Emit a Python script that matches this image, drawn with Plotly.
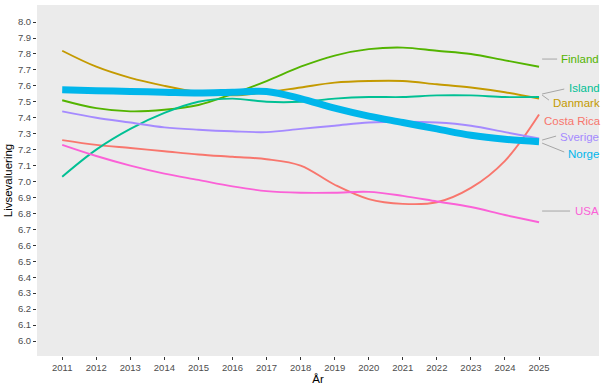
import plotly.graph_objects as go

years = list(range(2011, 2026))
countries = ["Costa Rica", "Danmark", "Finland", "Island", "Norge", "Sverige", "USA"]
costa_rica = [7.26, 7.23, 7.21, 7.19, 7.17, 7.155, 7.14, 7.10, 6.98, 6.89, 6.86, 6.87, 6.96, 7.13, 7.42]
danmark = [7.82, 7.72, 7.65, 7.60, 7.56, 7.54, 7.56, 7.59, 7.62, 7.63, 7.63, 7.61, 7.59, 7.56, 7.52]
finland = [7.51, 7.46, 7.44, 7.45, 7.48, 7.55, 7.63, 7.72, 7.79, 7.83, 7.84, 7.82, 7.80, 7.76, 7.72]
island = [7.03, 7.20, 7.33, 7.43, 7.50, 7.52, 7.50, 7.50, 7.52, 7.53, 7.53, 7.54, 7.54, 7.53, 7.53]
norge = [7.575, 7.57, 7.565, 7.56, 7.555, 7.56, 7.565, 7.52, 7.46, 7.41, 7.37, 7.33, 7.29, 7.265, 7.25]
sverige = [7.44, 7.40, 7.37, 7.34, 7.325, 7.315, 7.31, 7.33, 7.35, 7.37, 7.375, 7.37, 7.35, 7.31, 7.27]
usa = [7.23, 7.16, 7.10, 7.05, 7.01, 6.97, 6.94, 6.93, 6.93, 6.935, 6.91, 6.875, 6.84, 6.79, 6.745]
y_ticks = [round(6.0 + 0.1 * i, 1) for i in range(21)]

series = {"Costa Rica": costa_rica, "Danmark": danmark, "Finland": finland,
          "Island": island, "Norge": norge, "Sverige": sverige, "USA": usa}
colors = {"Costa Rica": "#F8766D", "Danmark": "#C49A00", "Finland": "#53B400",
          "Island": "#00C094", "Norge": "#00B6EB", "Sverige": "#A58AFF", "USA": "#FB61D7"}

# label placement (text anchor, leader line start, leader line end) in data coords
label_pos = {
    "Finland": (2025.59, 7.768, (2025.09, 7.768), (2025.53, 7.768)),
    "Island": (2025.82, 7.586, (2025.09, 7.549), (2025.74, 7.580)),
    "Danmark": (2025.35, 7.49, (2025.09, 7.542), (2025.29, 7.511)),
    "Costa Rica": (2025.09, 7.379, None, None),
    "Sverige": (2025.56, 7.279, (2025.09, 7.260), (2025.50, 7.285)),
    "Norge": (2025.79, 7.172, (2025.09, 7.241), (2025.74, 7.185)),
    "USA": (2026.0, 6.815, (2025.09, 6.815), (2025.91, 6.815)),
}

fig = go.Figure()
order = ["Costa Rica", "Danmark", "Finland", "Island", "Sverige", "USA", "Norge"]
for c in order:
    fig.add_trace(go.Scatter(
        x=years, y=series[c], mode="lines", name=c,
        line=dict(color=colors[c], width=7 if c == "Norge" else 1.9, shape="spline", smoothing=1.0),
        showlegend=False, hoverinfo="x+y+name"))

shapes = []
annotations = []
for c in countries:
    lx, ly, p0, p1 = label_pos[c]
    if p0 is not None:
        shapes.append(dict(type="line", xref="x", yref="y", x0=p0[0], y0=p0[1], x1=p1[0], y1=p1[1],
                           line=dict(color="#A6A6A6", width=1)))
    annotations.append(dict(x=lx, y=ly, xref="x", yref="y", text=c, showarrow=False,
                            xanchor="left", yanchor="middle",
                            font=dict(family="Liberation Sans, Arial, sans-serif", size=11.5, color=colors[c])))

fig.update_layout(
    width=605, height=391,
    margin=dict(l=37, r=6, t=5, b=35),
    paper_bgcolor="white", plot_bgcolor="#EBEBEB",
    font=dict(family="Liberation Sans, Arial, sans-serif"),
    shapes=shapes, annotations=annotations,
    xaxis=dict(range=[2010.26, 2026.76], tickmode="array", tickvals=years, ticktext=[str(y) for y in years],
               showgrid=False, zeroline=False, ticks="outside", ticklen=3, tickcolor="#333333",
               tickfont=dict(size=9.5, color="#4D4D4D"), automargin=False,
               title=dict(text="År", font=dict(size=11.5, color="black"), standoff=2)),
    yaxis=dict(range=[5.906, 8.107], tickmode="array", tickvals=y_ticks, ticktext=[f"{v:.1f}" for v in y_ticks],
               showgrid=False, zeroline=False, ticks="outside", ticklen=3, tickcolor="#333333",
               tickfont=dict(size=9.5, color="#4D4D4D"), automargin=False,
               title=dict(text="Livsevaluering", font=dict(size=11.5, color="black"), standoff=2)),
)

fig.write_html("out.html", config={"displayModeBar": False},
               post_script="document.body.style.margin='0px';document.body.style.padding='0px';")
